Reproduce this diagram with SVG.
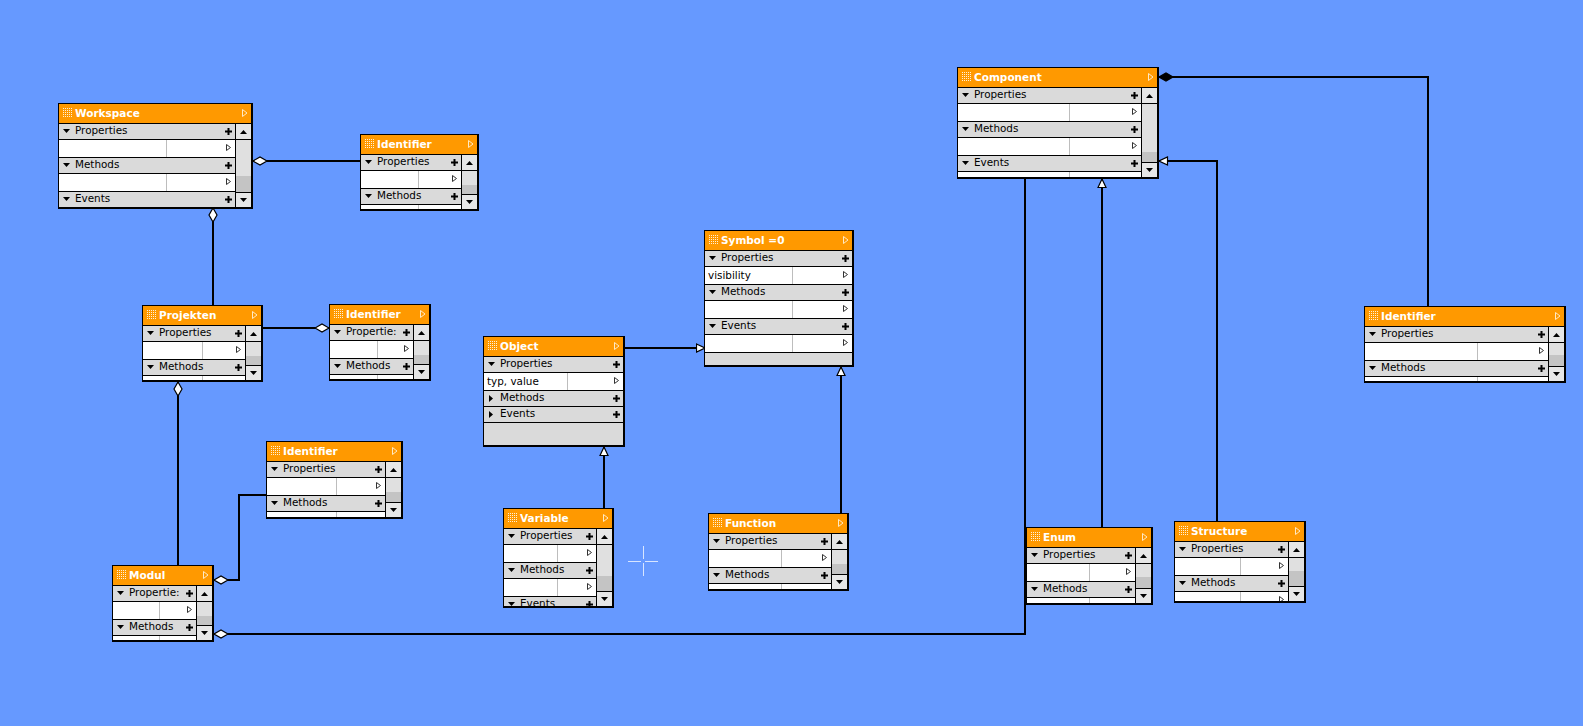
<svg xmlns="http://www.w3.org/2000/svg" width="1583" height="726" viewBox="0 0 1583 726">
<style>
.frame{fill:#000}
.hdr{fill:#FF9900}
.grip{fill:url(#dots)}
.title{font-family:"DejaVu Sans",sans-serif;font-weight:bold;font-size:10.5px;fill:#fff}
.sec{fill:#DADADA}
.cell{fill:#fff}
.split{fill:#BDBDBD}
.lbl{font-family:"DejaVu Sans",sans-serif;font-size:10.4px;fill:#000}
.track{fill:#C4C4C4}
.btn{fill:#E6E6E6}
.thumb{fill:#E0E0E0}
.wire{fill:none;stroke:#000;stroke-width:2}
</style>
<defs>
<pattern id="dots" width="2" height="2" patternUnits="userSpaceOnUse"><rect width="1" height="1" fill="#fff" fill-opacity="0.85"/></pattern>
<path id="caret" d="M0,0H7L3.5,4Z" fill="#000"/>
<path id="caret-up" d="M0,4H7L3.5,0Z" fill="#000"/>
<path id="caret-right" d="M0,0V7L4,3.5Z" fill="#000"/>
<path id="plus" d="M0,3.5H7M3.5,0V7" stroke="#000" stroke-width="2" fill="none"/>
<path id="cell-arrow" d="M0.5,0.5V6.5L4.5,3.5Z" fill="#fff" stroke="#333"/>
<path id="hdr-arrow" d="M0.5,0.5V7.5L5,4Z" fill="none" stroke="#FFE9C4"/>
<marker id="tri" viewBox="0 0 10 10" refX="9.5" refY="5" markerWidth="10" markerHeight="10" markerUnits="userSpaceOnUse" orient="auto"><path d="M1,1L9.5,5L1,9Z" fill="#fff" stroke="#000" stroke-width="1.2"/></marker>
<marker id="dia" viewBox="0 0 16 10" refX="0.5" refY="5" markerWidth="16" markerHeight="10" markerUnits="userSpaceOnUse" orient="auto"><path d="M0.5,5L7.5,1L14.5,5L7.5,9Z" fill="#fff" stroke="#000" stroke-width="1.2"/></marker>
<marker id="dia-filled" viewBox="0 0 16 10" refX="0.5" refY="5" markerWidth="16" markerHeight="10" markerUnits="userSpaceOnUse" orient="auto"><path d="M0.5,5L7.5,1L14.5,5L7.5,9Z" fill="#000" stroke="#000" stroke-width="1.2"/></marker>
<clipPath id="clip-variable"><rect width="108" height="97"/></clipPath>
<clipPath id="clip-structure"><rect width="129" height="79"/></clipPath>
</defs>

<rect width="1583" height="726" fill="#6699FF"/>

<!-- connectors -->
<g id="connectors">
<path class="wire" d="M253,161H361" marker-start="url(#dia)"/>
<path class="wire" d="M213,208V306" marker-start="url(#dia)"/>
<path class="wire" d="M329,328H262" marker-start="url(#dia)"/>
<path class="wire" d="M178,382V566" marker-start="url(#dia)"/>
<path class="wire" d="M214,580H239V495H267" marker-start="url(#dia)"/>
<path class="wire" d="M214,634H1025V179" marker-start="url(#dia)"/>
<path class="wire" d="M604,509V447" marker-end="url(#tri)"/>
<path class="wire" d="M624,348H705" marker-end="url(#tri)"/>
<path class="wire" d="M841,514V367" marker-end="url(#tri)"/>
<path class="wire" d="M1102,528V179" marker-end="url(#tri)"/>
<path class="wire" d="M1217,522V161H1159" marker-end="url(#tri)"/>
<path class="wire" d="M1159,77H1428V307" marker-start="url(#dia-filled)"/>
</g>

<!-- Workspace -->
<g id="node-workspace" transform="translate(59 104)">
<rect class="frame" x="-1" y="-1" width="195" height="106"/>
<rect class="hdr" width="192" height="19"/>
<rect class="grip" x="3" y="4" width="10" height="9"/>
<text class="title" x="16" y="13">Workspace</text>
<use href="#hdr-arrow" x="183" y="5"/>
<rect class="sec" y="20" width="176" height="15"/><use href="#caret" x="4" y="25"/><text class="lbl" x="16" y="30">Properties</text><use href="#plus" x="166" y="24"/>
<rect class="cell" y="36" width="176" height="17"/><rect class="split" x="107" y="36" width="1" height="17"/><use href="#cell-arrow" x="167" y="40"/>
<rect class="sec" y="54" width="176" height="15"/><use href="#caret" x="4" y="59"/><text class="lbl" x="16" y="64">Methods</text><use href="#plus" x="166" y="58"/>
<rect class="cell" y="70" width="176" height="17"/><rect class="split" x="107" y="70" width="1" height="17"/><use href="#cell-arrow" x="167" y="74"/>
<rect class="sec" y="88" width="176" height="15"/><use href="#caret" x="4" y="93"/><text class="lbl" x="16" y="98">Events</text><use href="#plus" x="166" y="92"/>
<rect class="btn" x="177" y="20" width="15" height="15"/><use href="#caret-up" x="181" y="26"/>
<rect class="track" x="177" y="36" width="15" height="52"/><rect class="thumb" x="177" y="36" width="15" height="36"/>
<rect class="btn" x="177" y="89" width="15" height="14"/><use href="#caret" x="181" y="94"/>
</g>

<!-- Identifier (workspace) -->
<g id="node-identifier-ws" transform="translate(361 135)">
<rect class="frame" x="-1" y="-1" width="119" height="77"/>
<rect class="hdr" width="116" height="19"/>
<rect class="grip" x="3" y="4" width="10" height="9"/>
<text class="title" x="16" y="13">Identifier</text>
<use href="#hdr-arrow" x="107" y="5"/>
<rect class="sec" y="20" width="100" height="15"/><use href="#caret" x="4" y="25"/><text class="lbl" x="16" y="30">Properties</text><use href="#plus" x="90" y="24"/>
<rect class="cell" y="36" width="100" height="17"/><rect class="split" x="57" y="36" width="1" height="17"/><use href="#cell-arrow" x="91" y="40"/>
<rect class="sec" y="54" width="100" height="15"/><use href="#caret" x="4" y="59"/><text class="lbl" x="16" y="64">Methods</text><use href="#plus" x="90" y="58"/>
<rect class="cell" y="70" width="100" height="4"/><rect class="split" x="57" y="70" width="1" height="4"/>
<rect class="btn" x="101" y="20" width="15" height="15"/><use href="#caret-up" x="105" y="26"/>
<rect class="track" x="101" y="36" width="15" height="23"/><rect class="thumb" x="101" y="36" width="15" height="14"/>
<rect class="btn" x="101" y="60" width="15" height="14"/><use href="#caret" x="105" y="65"/>
</g>

<!-- Component -->
<g id="node-component" transform="translate(958 68)">
<rect class="frame" x="-1" y="-1" width="202" height="112"/>
<rect class="hdr" width="199" height="19"/>
<rect class="grip" x="3" y="4" width="10" height="9"/>
<text class="title" x="16" y="13">Component</text>
<use href="#hdr-arrow" x="190" y="5"/>
<rect class="sec" y="20" width="183" height="15"/><use href="#caret" x="4" y="25"/><text class="lbl" x="16" y="30">Properties</text><use href="#plus" x="173" y="24"/>
<rect class="cell" y="36" width="183" height="17"/><rect class="split" x="111" y="36" width="1" height="17"/><use href="#cell-arrow" x="174" y="40"/>
<rect class="sec" y="54" width="183" height="15"/><use href="#caret" x="4" y="59"/><text class="lbl" x="16" y="64">Methods</text><use href="#plus" x="173" y="58"/>
<rect class="cell" y="70" width="183" height="17"/><rect class="split" x="111" y="70" width="1" height="17"/><use href="#cell-arrow" x="174" y="74"/>
<rect class="sec" y="88" width="183" height="15"/><use href="#caret" x="4" y="93"/><text class="lbl" x="16" y="98">Events</text><use href="#plus" x="173" y="92"/>
<rect class="cell" y="104" width="183" height="5"/><rect class="split" x="111" y="104" width="1" height="5"/>
<rect class="btn" x="184" y="20" width="15" height="15"/><use href="#caret-up" x="188" y="26"/>
<rect class="track" x="184" y="36" width="15" height="58"/><rect class="thumb" x="184" y="36" width="15" height="48"/>
<rect class="btn" x="184" y="95" width="15" height="14"/><use href="#caret" x="188" y="100"/>
</g>

<!-- Symbol -->
<g id="node-symbol" transform="translate(705 231)">
<rect class="frame" x="-1" y="-1" width="150" height="137"/>
<rect class="hdr" width="147" height="19"/>
<rect class="grip" x="3" y="4" width="10" height="9"/>
<text class="title" x="16" y="13">Symbol =0</text>
<use href="#hdr-arrow" x="138" y="5"/>
<rect class="sec" y="20" width="147" height="15"/><use href="#caret" x="4" y="25"/><text class="lbl" x="16" y="30">Properties</text><use href="#plus" x="137" y="24"/>
<rect class="cell" y="36" width="147" height="17"/><rect class="split" x="87" y="36" width="1" height="17"/><text class="lbl" x="3" y="48">visibility</text><use href="#cell-arrow" x="138" y="40"/>
<rect class="sec" y="54" width="147" height="15"/><use href="#caret" x="4" y="59"/><text class="lbl" x="16" y="64">Methods</text><use href="#plus" x="137" y="58"/>
<rect class="cell" y="70" width="147" height="17"/><rect class="split" x="87" y="70" width="1" height="17"/><use href="#cell-arrow" x="138" y="74"/>
<rect class="sec" y="88" width="147" height="15"/><use href="#caret" x="4" y="93"/><text class="lbl" x="16" y="98">Events</text><use href="#plus" x="137" y="92"/>
<rect class="cell" y="104" width="147" height="17"/><rect class="split" x="87" y="104" width="1" height="17"/><use href="#cell-arrow" x="138" y="108"/>
<rect class="sec" y="122" width="147" height="12"/>
</g>

<!-- Object -->
<g id="node-object" transform="translate(484 337)">
<rect class="frame" x="-1" y="-1" width="142" height="111"/>
<rect class="hdr" width="139" height="19"/>
<rect class="grip" x="3" y="4" width="10" height="9"/>
<text class="title" x="16" y="13">Object</text>
<use href="#hdr-arrow" x="130" y="5"/>
<rect class="sec" y="20" width="139" height="15"/><use href="#caret" x="4" y="25"/><text class="lbl" x="16" y="30">Properties</text><use href="#plus" x="129" y="24"/>
<rect class="cell" y="36" width="139" height="17"/><rect class="split" x="83" y="36" width="1" height="17"/><text class="lbl" x="3" y="48">typ, value</text><use href="#cell-arrow" x="130" y="40"/>
<rect class="sec" y="54" width="139" height="15"/><use href="#caret-right" x="5" y="58"/><text class="lbl" x="16" y="64">Methods</text><use href="#plus" x="129" y="58"/>
<rect class="sec" y="70" width="139" height="15"/><use href="#caret-right" x="5" y="74"/><text class="lbl" x="16" y="80">Events</text><use href="#plus" x="129" y="74"/>
<rect class="sec" y="86" width="139" height="22"/>
</g>

<!-- Projekten -->
<g id="node-projekten" transform="translate(143 306)">
<rect class="frame" x="-1" y="-1" width="121" height="77"/>
<rect class="hdr" width="118" height="19"/>
<rect class="grip" x="3" y="4" width="10" height="9"/>
<text class="title" x="16" y="13">Projekten</text>
<use href="#hdr-arrow" x="109" y="5"/>
<rect class="sec" y="20" width="102" height="15"/><use href="#caret" x="4" y="25"/><text class="lbl" x="16" y="30">Properties</text><use href="#plus" x="92" y="24"/>
<rect class="cell" y="36" width="102" height="17"/><rect class="split" x="59" y="36" width="1" height="17"/><use href="#cell-arrow" x="93" y="40"/>
<rect class="sec" y="54" width="102" height="15"/><use href="#caret" x="4" y="59"/><text class="lbl" x="16" y="64">Methods</text><use href="#plus" x="92" y="58"/>
<rect class="cell" y="70" width="102" height="4"/><rect class="split" x="59" y="70" width="1" height="4"/>
<rect class="btn" x="103" y="20" width="15" height="15"/><use href="#caret-up" x="107" y="26"/>
<rect class="track" x="103" y="36" width="15" height="23"/><rect class="thumb" x="103" y="36" width="15" height="14"/>
<rect class="btn" x="103" y="60" width="15" height="14"/><use href="#caret" x="107" y="65"/>
</g>

<!-- Identifier (project) -->
<g id="node-identifier-proj" transform="translate(330 305)">
<rect class="frame" x="-1" y="-1" width="102" height="77"/>
<rect class="hdr" width="99" height="19"/>
<rect class="grip" x="3" y="4" width="10" height="9"/>
<text class="title" x="16" y="13">Identifier</text>
<use href="#hdr-arrow" x="90" y="5"/>
<rect class="sec" y="20" width="83" height="15"/><use href="#caret" x="4" y="25"/><text class="lbl" x="16" y="30">Propertie:</text><use href="#plus" x="73" y="24"/>
<rect class="cell" y="36" width="83" height="17"/><rect class="split" x="47" y="36" width="1" height="17"/><use href="#cell-arrow" x="74" y="40"/>
<rect class="sec" y="54" width="83" height="15"/><use href="#caret" x="4" y="59"/><text class="lbl" x="16" y="64">Methods</text><use href="#plus" x="73" y="58"/>
<rect class="cell" y="70" width="83" height="4"/><rect class="split" x="47" y="70" width="1" height="4"/>
<rect class="btn" x="84" y="20" width="15" height="15"/><use href="#caret-up" x="88" y="26"/>
<rect class="track" x="84" y="36" width="15" height="23"/><rect class="thumb" x="84" y="36" width="15" height="14"/>
<rect class="btn" x="84" y="60" width="15" height="14"/><use href="#caret" x="88" y="65"/>
</g>

<!-- Identifier (module) -->
<g id="node-identifier-mod" transform="translate(267 442)">
<rect class="frame" x="-1" y="-1" width="137" height="78"/>
<rect class="hdr" width="134" height="19"/>
<rect class="grip" x="3" y="4" width="10" height="9"/>
<text class="title" x="16" y="13">Identifier</text>
<use href="#hdr-arrow" x="125" y="5"/>
<rect class="sec" y="20" width="118" height="15"/><use href="#caret" x="4" y="25"/><text class="lbl" x="16" y="30">Properties</text><use href="#plus" x="108" y="24"/>
<rect class="cell" y="36" width="118" height="17"/><rect class="split" x="69" y="36" width="1" height="17"/><use href="#cell-arrow" x="109" y="40"/>
<rect class="sec" y="54" width="118" height="15"/><use href="#caret" x="4" y="59"/><text class="lbl" x="16" y="64">Methods</text><use href="#plus" x="108" y="58"/>
<rect class="cell" y="70" width="118" height="5"/><rect class="split" x="69" y="70" width="1" height="5"/>
<rect class="btn" x="119" y="20" width="15" height="15"/><use href="#caret-up" x="123" y="26"/>
<rect class="track" x="119" y="36" width="15" height="24"/><rect class="thumb" x="119" y="36" width="15" height="14"/>
<rect class="btn" x="119" y="61" width="15" height="14"/><use href="#caret" x="123" y="66"/>
</g>

<!-- Modul -->
<g id="node-modul" transform="translate(113 566)">
<rect class="frame" x="-1" y="-1" width="102" height="77"/>
<rect class="hdr" width="99" height="19"/>
<rect class="grip" x="3" y="4" width="10" height="9"/>
<text class="title" x="16" y="13">Modul</text>
<use href="#hdr-arrow" x="90" y="5"/>
<rect class="sec" y="20" width="83" height="15"/><use href="#caret" x="4" y="25"/><text class="lbl" x="16" y="30">Propertie:</text><use href="#plus" x="73" y="24"/>
<rect class="cell" y="36" width="83" height="17"/><rect class="split" x="46" y="36" width="1" height="17"/><use href="#cell-arrow" x="74" y="40"/>
<rect class="sec" y="54" width="83" height="15"/><use href="#caret" x="4" y="59"/><text class="lbl" x="16" y="64">Methods</text><use href="#plus" x="73" y="58"/>
<rect class="cell" y="70" width="83" height="4"/><rect class="split" x="46" y="70" width="1" height="4"/>
<rect class="btn" x="84" y="20" width="15" height="15"/><use href="#caret-up" x="88" y="26"/>
<rect class="track" x="84" y="36" width="15" height="23"/><rect class="thumb" x="84" y="36" width="15" height="14"/>
<rect class="btn" x="84" y="60" width="15" height="14"/><use href="#caret" x="88" y="65"/>
</g>

<!-- Variable -->
<g id="node-variable" transform="translate(504 509)">
<rect class="frame" x="-1" y="-1" width="111" height="100"/>
<rect class="hdr" width="108" height="19"/>
<rect class="grip" x="3" y="4" width="10" height="9"/>
<text class="title" x="16" y="13">Variable</text>
<use href="#hdr-arrow" x="99" y="5"/>
<g clip-path="url(#clip-variable)">
<rect class="sec" y="20" width="92" height="15"/><use href="#caret" x="4" y="25"/><text class="lbl" x="16" y="30">Properties</text><use href="#plus" x="82" y="24"/>
<rect class="cell" y="36" width="92" height="17"/><rect class="split" x="53" y="36" width="1" height="17"/><use href="#cell-arrow" x="83" y="40"/>
<rect class="sec" y="54" width="92" height="15"/><use href="#caret" x="4" y="59"/><text class="lbl" x="16" y="64">Methods</text><use href="#plus" x="82" y="58"/>
<rect class="cell" y="70" width="92" height="17"/><rect class="split" x="53" y="70" width="1" height="17"/><use href="#cell-arrow" x="83" y="74"/>
<rect class="sec" y="88" width="92" height="15"/><use href="#caret" x="4" y="93"/><text class="lbl" x="16" y="98">Events</text><use href="#plus" x="82" y="92"/>
</g>
<rect class="btn" x="93" y="20" width="15" height="15"/><use href="#caret-up" x="97" y="26"/>
<rect class="track" x="93" y="36" width="15" height="46"/><rect class="thumb" x="93" y="36" width="15" height="31"/>
<rect class="btn" x="93" y="83" width="15" height="14"/><use href="#caret" x="97" y="88"/>
</g>

<!-- Function -->
<g id="node-function" transform="translate(709 514)">
<rect class="frame" x="-1" y="-1" width="141" height="78"/>
<rect class="hdr" width="138" height="19"/>
<rect class="grip" x="3" y="4" width="10" height="9"/>
<text class="title" x="16" y="13">Function</text>
<use href="#hdr-arrow" x="129" y="5"/>
<rect class="sec" y="20" width="122" height="15"/><use href="#caret" x="4" y="25"/><text class="lbl" x="16" y="30">Properties</text><use href="#plus" x="112" y="24"/>
<rect class="cell" y="36" width="122" height="17"/><rect class="split" x="72" y="36" width="1" height="17"/><use href="#cell-arrow" x="113" y="40"/>
<rect class="sec" y="54" width="122" height="15"/><use href="#caret" x="4" y="59"/><text class="lbl" x="16" y="64">Methods</text><use href="#plus" x="112" y="58"/>
<rect class="cell" y="70" width="122" height="5"/><rect class="split" x="72" y="70" width="1" height="5"/>
<rect class="btn" x="123" y="20" width="15" height="15"/><use href="#caret-up" x="127" y="26"/>
<rect class="track" x="123" y="36" width="15" height="24"/><rect class="thumb" x="123" y="36" width="15" height="14"/>
<rect class="btn" x="123" y="61" width="15" height="14"/><use href="#caret" x="127" y="66"/>
</g>

<!-- Enum -->
<g id="node-enum" transform="translate(1027 528)">
<rect class="frame" x="-1" y="-1" width="127" height="78"/>
<rect class="hdr" width="124" height="19"/>
<rect class="grip" x="3" y="4" width="10" height="9"/>
<text class="title" x="16" y="13">Enum</text>
<use href="#hdr-arrow" x="115" y="5"/>
<rect class="sec" y="20" width="108" height="15"/><use href="#caret" x="4" y="25"/><text class="lbl" x="16" y="30">Properties</text><use href="#plus" x="98" y="24"/>
<rect class="cell" y="36" width="108" height="17"/><rect class="split" x="62" y="36" width="1" height="17"/><use href="#cell-arrow" x="99" y="40"/>
<rect class="sec" y="54" width="108" height="15"/><use href="#caret" x="4" y="59"/><text class="lbl" x="16" y="64">Methods</text><use href="#plus" x="98" y="58"/>
<rect class="cell" y="70" width="108" height="5"/><rect class="split" x="62" y="70" width="1" height="5"/>
<rect class="btn" x="109" y="20" width="15" height="15"/><use href="#caret-up" x="113" y="26"/>
<rect class="track" x="109" y="36" width="15" height="24"/><rect class="thumb" x="109" y="36" width="15" height="13"/>
<rect class="btn" x="109" y="61" width="15" height="14"/><use href="#caret" x="113" y="66"/>
</g>

<!-- Structure -->
<g id="node-structure" transform="translate(1175 522)">
<rect class="frame" x="-1" y="-1" width="132" height="82"/>
<rect class="hdr" width="129" height="19"/>
<rect class="grip" x="3" y="4" width="10" height="9"/>
<text class="title" x="16" y="13">Structure</text>
<use href="#hdr-arrow" x="120" y="5"/>
<g clip-path="url(#clip-structure)">
<rect class="sec" y="20" width="113" height="15"/><use href="#caret" x="4" y="25"/><text class="lbl" x="16" y="30">Properties</text><use href="#plus" x="103" y="24"/>
<rect class="cell" y="36" width="113" height="17"/><rect class="split" x="65" y="36" width="1" height="17"/><use href="#cell-arrow" x="104" y="40"/>
<rect class="sec" y="54" width="113" height="15"/><use href="#caret" x="4" y="59"/><text class="lbl" x="16" y="64">Methods</text><use href="#plus" x="103" y="58"/>
<rect class="cell" y="70" width="113" height="9"/><rect class="split" x="65" y="70" width="1" height="9"/><use href="#cell-arrow" x="104" y="74"/>
</g>
<rect class="btn" x="114" y="20" width="15" height="15"/><use href="#caret-up" x="118" y="26"/>
<rect class="track" x="114" y="36" width="15" height="28"/><rect class="thumb" x="114" y="36" width="15" height="13"/>
<rect class="btn" x="114" y="65" width="15" height="14"/><use href="#caret" x="118" y="70"/>
</g>

<!-- Identifier (component) -->
<g id="node-identifier-comp" transform="translate(1365 307)">
<rect class="frame" x="-1" y="-1" width="202" height="77"/>
<rect class="hdr" width="199" height="19"/>
<rect class="grip" x="3" y="4" width="10" height="9"/>
<text class="title" x="16" y="13">Identifier</text>
<use href="#hdr-arrow" x="190" y="5"/>
<rect class="sec" y="20" width="183" height="15"/><use href="#caret" x="4" y="25"/><text class="lbl" x="16" y="30">Properties</text><use href="#plus" x="173" y="24"/>
<rect class="cell" y="36" width="183" height="17"/><rect class="split" x="112" y="36" width="1" height="17"/><use href="#cell-arrow" x="174" y="40"/>
<rect class="sec" y="54" width="183" height="15"/><use href="#caret" x="4" y="59"/><text class="lbl" x="16" y="64">Methods</text><use href="#plus" x="173" y="58"/>
<rect class="cell" y="70" width="183" height="4"/><rect class="split" x="112" y="70" width="1" height="4"/>
<rect class="btn" x="184" y="20" width="15" height="15"/><use href="#caret-up" x="188" y="26"/>
<rect class="track" x="184" y="36" width="15" height="23"/><rect class="thumb" x="184" y="36" width="15" height="12"/>
<rect class="btn" x="184" y="60" width="15" height="14"/><use href="#caret" x="188" y="65"/>
</g>

<!-- pointer crosshair -->
<g id="cursor" stroke="#fff" stroke-opacity="0.75" stroke-width="1">
<path d="M628,561.5H641M645,561.5H658M643.5,546V559M643.5,563V576"/>
</g>
</svg>
